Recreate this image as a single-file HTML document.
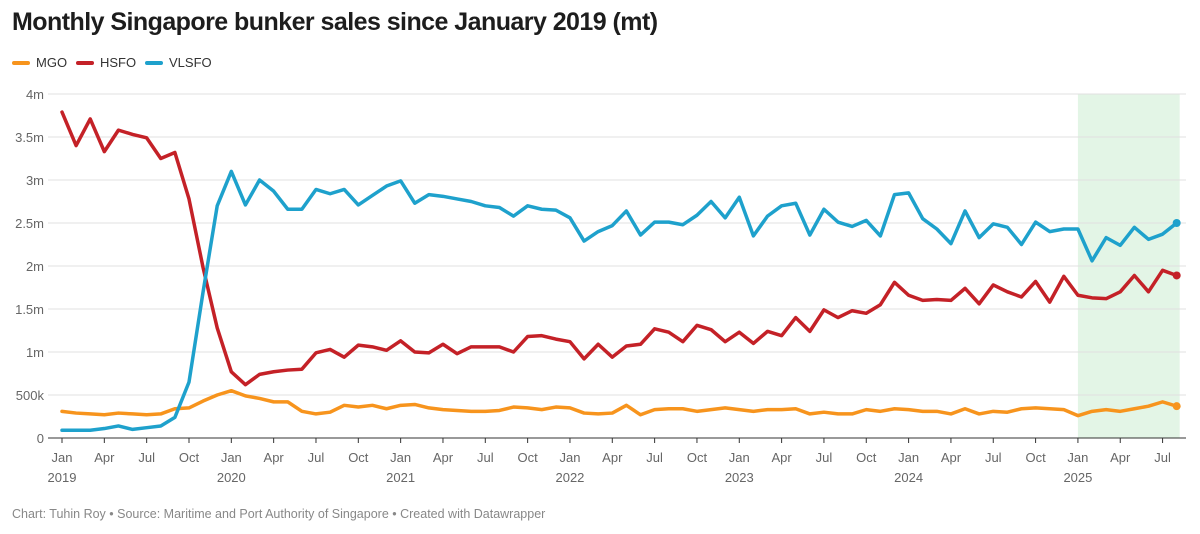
<!DOCTYPE html>
<html><head><meta charset="utf-8">
<style>
body{margin:0;background:#fff;font-family:"Liberation Sans",sans-serif;}
#wrap{position:relative;width:1200px;height:534px;overflow:hidden}
h1{position:absolute;left:12px;top:8px;margin:0;font-size:25px;font-weight:bold;color:#1d1d1d;letter-spacing:-0.55px}
.leg{position:absolute;top:55px;font-size:13px;color:#333;display:flex;align-items:center}
.leg span.sw{display:inline-block;width:18px;height:4px;border-radius:2px;margin-right:6px}
#foot{position:absolute;left:12px;top:507px;font-size:12.5px;color:#888}
svg{position:absolute;left:0;top:0}
svg text{font-family:"Liberation Sans",sans-serif;font-size:13px;fill:#666}
</style></head><body>
<div id="wrap">
<h1>Monthly Singapore bunker sales since January 2019 (mt)</h1>
<div class="leg" style="left:12px"><span class="sw" style="background:#f7941d"></span>MGO</div>
<div class="leg" style="left:76px"><span class="sw" style="background:#c42127"></span>HSFO</div>
<div class="leg" style="left:145px"><span class="sw" style="background:#1ea1cc"></span>VLSFO</div>
<svg id="svg" width="1200" height="534"></svg>
<div id="foot">Chart: Tuhin Roy • Source: Maritime and Port Authority of Singapore • Created with Datawrapper</div>
</div>
<script>
const yTicks=[0,0.5,1,1.5,2,2.5,3,3.5,4];
const yTickLabels=["0","500k","1m","1.5m","2m","2.5m","3m","3.5m","4m"];
const vlsfo=[0.09,0.09,0.09,0.11,0.14,0.10,0.12,0.14,0.24,0.65,1.7,2.7,
3.1,2.71,3.0,2.87,2.66,2.66,2.89,2.84,2.89,2.71,2.82,2.93,
2.99,2.73,2.83,2.81,2.78,2.75,2.70,2.68,2.58,2.70,2.66,2.65,
2.56,2.29,2.40,2.47,2.64,2.36,2.51,2.51,2.48,2.59,2.75,2.56,
2.80,2.35,2.58,2.70,2.73,2.36,2.66,2.51,2.46,2.53,2.35,2.83,
2.85,2.55,2.43,2.26,2.64,2.33,2.49,2.45,2.25,2.51,2.40,2.43,
2.43,2.06,2.33,2.24,2.45,2.31,2.37,2.50];
const hsfo=[3.79,3.40,3.71,3.33,3.58,3.53,3.49,3.25,3.32,2.78,1.98,1.28,
0.77,0.62,0.74,0.77,0.79,0.80,0.99,1.03,0.94,1.08,1.06,1.02,
1.13,1.00,0.99,1.09,0.98,1.06,1.06,1.06,1.00,1.18,1.19,1.15,
1.12,0.92,1.09,0.94,1.07,1.09,1.27,1.23,1.12,1.31,1.26,1.12,
1.23,1.10,1.24,1.19,1.40,1.24,1.49,1.40,1.48,1.45,1.55,1.81,
1.66,1.60,1.61,1.60,1.74,1.56,1.78,1.70,1.64,1.82,1.58,1.88,
1.66,1.63,1.62,1.70,1.89,1.70,1.95,1.89];
const mgo=[.31,.29,.28,.27,.29,.28,.27,.28,.34,.35,.43,.50,
.55,.49,.46,.42,.42,.31,.28,.30,.38,.36,.38,.34,
.38,.39,.35,.33,.32,.31,.31,.32,.36,.35,.33,.36,
.35,.29,.28,.29,.38,.27,.33,.34,.34,.31,.33,.35,
.33,.31,.33,.33,.34,.28,.30,.28,.28,.33,.31,.34,
.33,.31,.31,.28,.34,.28,.31,.30,.34,.35,.34,.33,
.26,.31,.33,.31,.34,.37,.42,.37];
const monthNames=["Jan","Apr","Jul","Oct"];
const years=["2019","2020","2021","2022","2023","2024","2025"];
const shadeStart=72;

const NS="http://www.w3.org/2000/svg";
const svg=document.getElementById('svg');
const x=i=>62+i*14.11;
const y=v=>438-v*86;
function mk(t,a){const e=document.createElementNS(NS,t);for(const k in a)e.setAttribute(k,a[k]);svg.appendChild(e);return e;}
const n=vlsfo.length;
let sh=mk('rect',{x:x(shadeStart),y:y(4),width:x(n-1)-x(shadeStart)+3,height:y(0)-y(4),fill:'#e3f5e6'});


yTicks.forEach((v,i)=>{
 const g=mk('line',{x1:48,x2:1186,y1:y(v),y2:y(v),stroke:i==0?'#333':'#e0e0e0','stroke-width':1});
 
 
 const t=mk('text',{x:44,y:y(v)+5,'text-anchor':'end'});t.textContent=yTickLabels[i];
 
 
});
for(let i=0;i<n;i+=3){
 const tk=mk('line',{x1:x(i),x2:x(i),y1:438,y2:443,stroke:'#333'});
 
 
 const t=mk('text',{x:x(i),y:462,'text-anchor':'middle'});t.textContent=monthNames[(i%12)/3];
 
 
 if(i%12==0){const t2=mk('text',{x:x(i),y:482,'text-anchor':'middle'});t2.textContent=years[i/12];
 
 }
}
function line(d,c,name){
 const p=mk('polyline',{points:d.map((v,i)=>x(i)+','+y(v)).join(' '),fill:'none',stroke:c,'stroke-width':3.5,'stroke-linejoin':'round','stroke-linecap':'round'});
 
 
 const dt=mk('circle',{cx:x(d.length-1),cy:y(d[d.length-1]),r:4,fill:c});
 
 
}
line(mgo,'#f7941d','line-mgo');
line(hsfo,'#c42127','line-hsfo');
line(vlsfo,'#1ea1cc','line-vlsfo');
</script>
</body></html>
